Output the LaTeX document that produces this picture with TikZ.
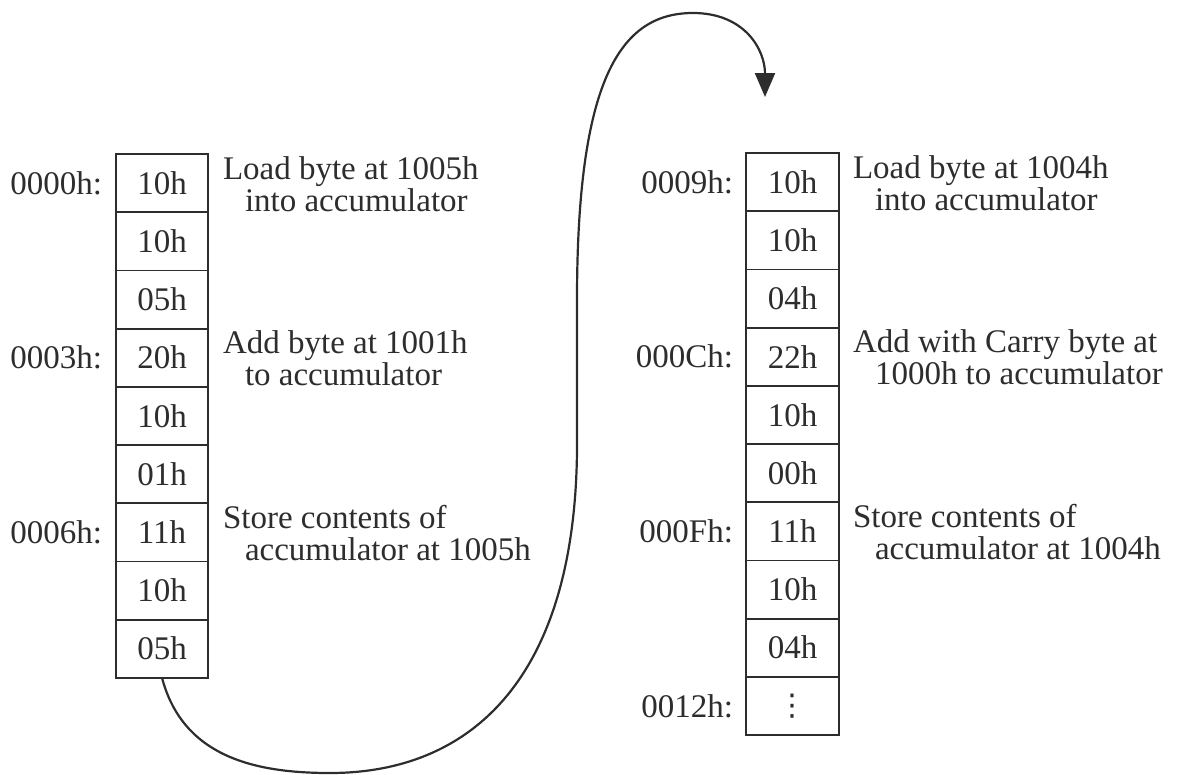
\documentclass[tikz,border=0pt]{standalone}
\usepackage{fontspec}
\setmainfont{Liberation Serif}
\newfontfamily\symfont{DejaVu Sans}
\usetikzlibrary{arrows.meta}
\definecolor{ink}{RGB}{45,45,45}
\begin{document}
\begin{tikzpicture}[x=1pt,y=-1pt,
  txt/.style={text=ink, font=\fontsize{33}{31}\selectfont, inner sep=0pt, outer sep=0pt},
  cell/.style={txt, draw=ink, line width=1.8pt, minimum width=92pt, minimum height=58.2pt, anchor=north west},
  addr/.style={txt, anchor=east},
  desc/.style={txt, anchor=base west},
  flow/.style={draw=ink, line width=2.2pt, -{Triangle[width=20pt,length=24pt]}}
]
\useasboundingbox (0,0) rectangle (1178,774);

% left column
\foreach \t [count=\i] in {10h,10h,05h,20h,10h,01h,11h,10h,05h}
  \node[cell] (L\i) at (116,{154+(\i-1)*58.2}) {\t};
% right column
\foreach \t [count=\i] in {10h,10h,04h,22h,10h,00h,11h,10h,04h}
  \node[cell, minimum width=93pt] (R\i) at (746,{153+(\i-1)*58.2}) {\t};
\node[cell, minimum width=93pt] (R10) at (746,{153+9*58.2}) {\symfont\fontsize{30}{30}\selectfont ⋮};

% addresses
\node[addr] (aL1) at ([xshift=-14pt]L1.west) {0000h:};
\node[addr] (aL4) at ([xshift=-14pt]L4.west) {0003h:};
\node[addr] (aL7) at ([xshift=-14pt]L7.west) {0006h:};
\node[addr] (aR1) at ([xshift=-13pt]R1.west) {0009h:};
\node[addr] (aR4) at ([xshift=-13pt]R4.west) {000Ch:};
\node[addr] (aR7) at ([xshift=-13pt]R7.west) {000Fh:};
\node[addr] (aR10) at ([xshift=-13pt]R10.west) {0012h:};

% descriptions
\node[desc] (dL1) at ([xshift=15pt,yshift=4pt]L1.east)
  {\begin{tabular}[t]{@{}l@{}}Load byte at 1005h\\\hspace*{22pt}into accumulator\end{tabular}};
\node[desc] (dL4) at ([xshift=15pt,yshift=4pt]L4.east)
  {\begin{tabular}[t]{@{}l@{}}Add byte at 1001h\\\hspace*{22pt}to accumulator\end{tabular}};
\node[desc] (dL7) at ([xshift=15pt,yshift=4pt]L7.east)
  {\begin{tabular}[t]{@{}l@{}}Store contents of\\\hspace*{22pt}accumulator at 1005h\end{tabular}};
\node[desc] (dR1) at ([xshift=14pt,yshift=4pt]R1.east)
  {\begin{tabular}[t]{@{}l@{}}Load byte at 1004h\\\hspace*{22pt}into accumulator\end{tabular}};
\node[desc] (dR4) at ([xshift=14pt,yshift=4pt]R4.east)
  {\begin{tabular}[t]{@{}l@{}}Add with Carry byte at\\\hspace*{22pt}1000h to accumulator\end{tabular}};
\node[desc] (dR7) at ([xshift=14pt,yshift=4pt]R7.east)
  {\begin{tabular}[t]{@{}l@{}}Store contents of\\\hspace*{22pt}accumulator at 1004h\end{tabular}};

% jump arrow
\coordinate (tip) at (765,97);
\draw[flow] (L9.south) .. controls (183,757) and (255,773) .. (330,773)
  .. controls (470,773) and (575,680) .. (577,450) -- (577,300)
  .. controls (577,80) and (620,13) .. (693,13)
  .. controls (745,13) and (765,50) .. (tip);
\end{tikzpicture}
\end{document}
